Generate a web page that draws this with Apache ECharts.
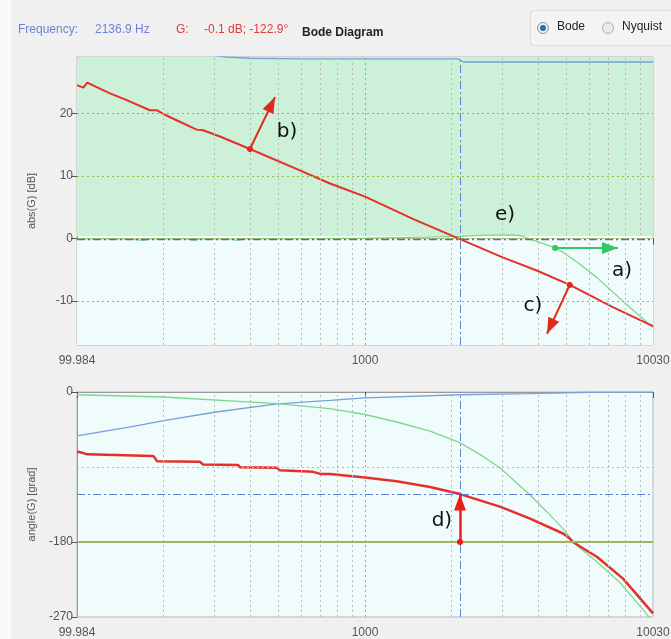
<!DOCTYPE html>
<html><head><meta charset="utf-8">
<script src="https://cdn.jsdelivr.net/npm/echarts@6/dist/echarts.min.js"></script>
<style>html,body{margin:0;padding:0;background:#f0f0f0;}#c{width:671px;height:639px;}</style>
</head><body><div id="c"></div>
<script>
// ---- data ----
const xTickLabels = ['99.984', '1000', '10030'];
const magTickValues = [-10, 0, 10, 20];
const phaseTickValues = [-270, -180, 0];
const minorFreqs = [200,300,400,500,600,700,800,900,2000,3000,4000,5000,6000,7000,8000,9000];

const redMagF  = [100,105.2,108.6,117,130.2,148.8,179,189.2,199.4,221.7,260.3,274.2,313.6,398.6,594,756,1000,1472,2137,3006,3945,5141,7278,10000];
const redMagDb = [24.5,24.1,24.9,24.2,23.2,22.1,20.5,20.5,19.9,18.9,17.4,17.3,16.3,14.3,10.9,8.8,6.7,3.1,-0.1,-3.0,-5.1,-7.4,-11.0,-14.0];

const greenMagF  = [100,150,170,180,240,255,270,340,360,380,700,1000,1500,2137,2600,3200,3500,3740,4160,4571,4870,5580,6375,8318,10000];
const greenMagDb = [-0.05,-0.05,-0.3,-0.05,-0.05,-0.3,-0.05,-0.05,-0.3,-0.05,0.0,0.05,0.2,0.35,0.55,0.6,0.45,-0.1,-0.8,-1.5,-2.2,-4.1,-6.2,-11.0,-14.2];

const blueMagF  = [100,150,200,260,330,400,600,2100,2200,10000];
const blueMagDb = [32.4,30.8,30.0,29.6,29.0,28.8,28.7,28.7,28.2,28.2];

const redPhF   = [100,104.1,108.3,182,185,189.5,267,270,274,362,365,368,495,500,506,660,700,756,818,1000,1288,1682,2137,2940,3725,4870,5140,5200,5270,6400,7870,10000];
const redPhDeg = [-71.5,-72.8,-74.8,-76.9,-77.5,-83,-83.7,-85,-87,-87.5,-89,-90.2,-91,-92.5,-94,-95.8,-98.3,-98.5,-99.5,-102.5,-107,-114,-122.5,-137.5,-151.6,-169.8,-175.9,-176.5,-180,-198,-224,-265.6];

const greenPhF   = [100,200,495,756,1000,1288,1682,2137,2577,2940,3725,4276,4870,5350,6400,7674,9640,10000];
const greenPhDeg = [-3.3,-6,-14,-20,-27,-36,-47,-60.7,-77.6,-91,-123,-143.6,-164,-182,-204,-228.5,-269,-276];

const bluePhF   = [100,157,200,300,495,756,1000,2137,3740,6040,10000];
const bluePhDeg = [-52.6,-41.3,-34.4,-24.3,-14.2,-10,-7,-3.3,-2,-0.3,-0.2];

const cursorFreq = 2136.9, cursorDb = -0.1, cursorDeg = -122.9;

// annotations: [fromF, fromV, toF, toV]
const arrowB = [398.6, 14.3, 487, 22.6];
const arrowC = [5141, -7.4, 4285, -15.2];
const arrowA = [4571, -1.5, 7558, -1.5];
const arrowD = [2136.9, -180, 2136.9, -122.9];
// labels: [text, f, value]
const magLabels = [['b)', 536, 17.0], ['e)', 3062, 3.8], ['a)', 7800, -5.2], ['c)', 3828, -10.8]];
const phaseLabels = [['d)', 1849, -154.9]];

// ---- chart ----
const zip = (a, b) => a.map((v, i) => [v, b[i]]);
const dotted = [2, 3];
const dashDot = [8, 3, 2, 3];
const gridLeft = 77, gridW = 576;
const font = 'Liberation Sans, Arial, sans-serif';

function xAxisCfg(gi) {
  return {
    type: 'log', logBase: 10, min: 100, max: 10000, gridIndex: gi,
    axisLine: { show: true, lineStyle: { color: '#9a9a9a' } },
    axisTick: { show: true, length: 6, lineStyle: { color: '#555' } },
    axisLabel: { color: '#555', fontSize: 12, margin: 10, fontFamily: font,
      formatter: v => xTickLabels[Math.round(Math.log10(v)) - 2] },
    splitLine: { show: false }, minorTick: { show: false }
  };
}
function labelPts(arr) {
  return arr.map(l => ({ coord: [l[1], l[2]], value: l[0] }));
}
function arrow(a, color, width) {
  return [
    { coord: [a[0], a[1]], symbol: 'circle', symbolSize: 6, lineStyle: { color: color, width: width, type: 'solid' } },
    { coord: [a[2], a[3]], symbol: 'triangle', symbolSize: [12, 16], symbolOffset: [0, 8] }
  ];
}
const labelMarks = arr => ({ silent: true, symbol: 'circle', symbolSize: 1, itemStyle: { color: 'rgba(0,0,0,0)' },
  label: { show: true, position: 'inside', color: '#111', fontSize: 20, fontFamily: 'DejaVu Sans, sans-serif', formatter: p => p.value },
  data: labelPts(arr) });

const option = {
  animation: false,
  backgroundColor: '#f0f0f0',
  grid: [
    { left: gridLeft, top: 57, width: gridW, height: 288, outerBoundsMode: 'none', containLabel: false, show: true, backgroundColor: '#ffffff', borderColor: '#b4bcb4', borderWidth: 1 },
    { left: gridLeft, top: 392, width: gridW, height: 225, outerBoundsMode: 'none', containLabel: false, show: true, backgroundColor: '#f0fcfc', borderColor: '#b4bcb4', borderWidth: 1 }
  ],
  xAxis: [xAxisCfg(0), xAxisCfg(1)],
  yAxis: [
    { type: 'value', gridIndex: 0, min: -17, max: 29, name: 'abs(G) [dB]', nameLocation: 'middle', nameGap: 40,
      nameTextStyle: { color: '#555', fontSize: 11, fontFamily: font },
      axisLine: { show: true, lineStyle: { color: '#9a9a9a' } },
      axisTick: { show: true, length: 6, customValues: magTickValues, lineStyle: { color: '#555' } },
      axisLabel: { color: '#555', fontSize: 12, margin: 4, customValues: magTickValues, fontFamily: font },
      splitLine: { show: false } },
    { type: 'value', gridIndex: 1, min: -270, max: 0, name: 'angle(G) [grad]', nameLocation: 'middle', nameGap: 40,
      nameTextStyle: { color: '#555', fontSize: 11, fontFamily: font },
      axisLine: { show: true, lineStyle: { color: '#9a9a9a' } },
      axisTick: { show: true, length: 6, customValues: phaseTickValues, lineStyle: { color: '#555' } },
      axisLabel: { color: '#555', fontSize: 12, margin: 4, customValues: phaseTickValues, fontFamily: font },
      splitLine: { show: false } }
  ],
  graphic: [
    { type: 'rect', left: 0, top: 0, shape: { width: 11, height: 639 }, style: { fill: '#fafafa' }, z: -1 },
    { type: 'text', left: 18, top: 24, style: { text: 'Frequency:', fill: '#6b83d6', font: '12px ' + font } },
    { type: 'text', left: 95, top: 24, style: { text: '2136.9 Hz', fill: '#6b83d6', font: '12px ' + font } },
    { type: 'text', left: 176, top: 24, style: { text: 'G:', fill: '#e03a3a', font: '12px ' + font } },
    { type: 'text', left: 204, top: 24, style: { text: '-0.1 dB; -122.9°', fill: '#e03a3a', font: '12px ' + font } },
    { type: 'text', left: 302, top: 27, style: { text: 'Bode Diagram', fill: '#222', font: 'bold 12px ' + font } },
    { type: 'rect', left: 530, top: 10, shape: { width: 150, height: 35, r: 4 }, style: { fill: '#f4f4f4', stroke: '#dcdcdc', lineWidth: 1 } },
    { type: 'circle', shape: { cx: 543, cy: 28, r: 5.5 }, style: { fill: '#e8eef4', stroke: '#8a98a8', lineWidth: 1 } },
    { type: 'circle', shape: { cx: 543, cy: 28, r: 3 }, style: { fill: '#2f6fa8' } },
    { type: 'text', left: 557, top: 21, style: { text: 'Bode', fill: '#222', font: '12px ' + font } },
    { type: 'circle', shape: { cx: 608, cy: 28, r: 5.5 }, style: { fill: '#eaeaea', stroke: '#b0b0b0', lineWidth: 1 } },
    { type: 'text', left: 622, top: 21, style: { text: 'Nyquist', fill: '#222', font: '12px ' + font } }
  ],
  series: [
    // --- magnitude plot ---
    { type: 'line', xAxisIndex: 0, yAxisIndex: 0, data: [], z: 0, silent: true,
      markArea: { silent: true, data: [
        [{ yAxis: 0.35, itemStyle: { color: '#cdf0d9' } }, { yAxis: 29 }],
        [{ yAxis: -17, itemStyle: { color: '#f0fcfc' } }, { yAxis: 0 }]
      ] } },
    { type: 'line', xAxisIndex: 0, yAxisIndex: 0, data: [], z: 1, silent: true,
      markLine: { silent: true, symbol: 'none', label: { show: false }, data: [
        ...minorFreqs.map(f => ({ xAxis: f, lineStyle: { color: '#b8b8b8', type: dotted, width: 1 } })),
        { xAxis: 1000, lineStyle: { color: '#9ab832', type: dotted, width: 1 } },
        ...magTickValues.map(v => ({ yAxis: v, lineStyle: { color: '#9ab832', type: dotted, width: 1.2 } }))
      ] } },
    { type: 'line', xAxisIndex: 0, yAxisIndex: 0, data: zip(blueMagF, blueMagDb), showSymbol: false, z: 2,
      lineStyle: { color: '#7a9fdc', width: 1.3 }, itemStyle: { color: '#7a9fdc' } },
    { type: 'line', xAxisIndex: 0, yAxisIndex: 0, data: zip(greenMagF, greenMagDb), showSymbol: false, z: 2,
      lineStyle: { color: '#7ed88b', width: 1.3 }, itemStyle: { color: '#7ed88b' } },
    { type: 'line', xAxisIndex: 0, yAxisIndex: 0, data: [], z: 3, silent: true,
      markLine: { silent: true, symbol: 'none', label: { show: false }, data: [
        { yAxis: cursorDb, lineStyle: { color: '#5f6f86', type: dashDot, width: 1.3 } },
        { xAxis: cursorFreq, lineStyle: { color: '#5f80d8', type: dashDot, width: 1 } }
      ] } },
    { type: 'line', xAxisIndex: 0, yAxisIndex: 0, data: zip(redMagF, redMagDb), showSymbol: false, z: 4,
      lineStyle: { color: '#e5302a', width: 2 }, itemStyle: { color: '#e5302a' } },
    { type: 'line', xAxisIndex: 0, yAxisIndex: 0, data: [], z: 6, silent: true,
      markLine: { silent: true, label: { show: false }, data: [
        arrow(arrowB, '#e02a1a', 2),
        arrow(arrowC, '#e02a1a', 2),
        arrow(arrowA, '#33c766', 2)
      ] },
      markPoint: labelMarks(magLabels) },
    // --- phase plot ---
    { type: 'line', xAxisIndex: 1, yAxisIndex: 1, data: [], z: 1, silent: true,
      markLine: { silent: true, symbol: 'none', label: { show: false }, data: [
        ...minorFreqs.map(f => ({ xAxis: f, lineStyle: { color: '#b8b8b8', type: dotted, width: 1 } })),
        { xAxis: 1000, lineStyle: { color: '#a8b040', type: dotted, width: 1 } },
        { yAxis: -90, lineStyle: { color: '#b8b8b8', type: dotted, width: 1 } },
        { yAxis: -180, lineStyle: { color: '#a3b060', type: 'solid', width: 2 } }
      ] } },
    { type: 'line', xAxisIndex: 1, yAxisIndex: 1, data: zip(bluePhF, bluePhDeg), showSymbol: false, z: 2,
      lineStyle: { color: '#7a9fdc', width: 1.3 }, itemStyle: { color: '#7a9fdc' } },
    { type: 'line', xAxisIndex: 1, yAxisIndex: 1, data: zip(greenPhF, greenPhDeg), showSymbol: false, z: 2,
      lineStyle: { color: '#7ed88b', width: 1.3 }, itemStyle: { color: '#7ed88b' } },
    { type: 'line', xAxisIndex: 1, yAxisIndex: 1, data: [], z: 3, silent: true,
      markLine: { silent: true, symbol: 'none', label: { show: false }, data: [
        { yAxis: cursorDeg, lineStyle: { color: '#5f80d8', type: dashDot, width: 1 } },
        { xAxis: cursorFreq, lineStyle: { color: '#5f80d8', type: dashDot, width: 1 } }
      ] } },
    { type: 'line', xAxisIndex: 1, yAxisIndex: 1, data: zip(redPhF, redPhDeg), showSymbol: false, z: 4,
      lineStyle: { color: '#e5302a', width: 2.5 }, itemStyle: { color: '#e5302a' } },
    { type: 'line', xAxisIndex: 1, yAxisIndex: 1, data: [], z: 6, silent: true,
      markLine: { silent: true, label: { show: false }, data: [
        arrow(arrowD, '#ee1c1c', 2.5)
      ] },
      markPoint: labelMarks(phaseLabels) }
  ]
};
const chart = echarts.init(document.getElementById('c'), null, { renderer: 'canvas' });
chart.setOption(option);
</script></body></html>
